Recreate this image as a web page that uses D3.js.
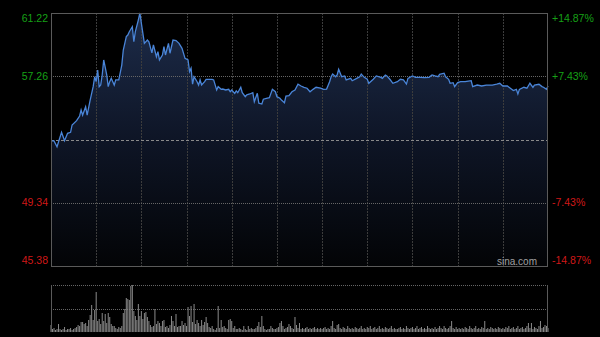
<!DOCTYPE html>
<html>
<head>
<meta charset="utf-8"/>
<title>intraday</title>
<script src="https://cdnjs.cloudflare.com/ajax/libs/d3/7.8.5/d3.min.js"></script>
<style>
  html, body { margin: 0; padding: 0; background: #000; }
  svg { display: block; }
  text { font-family: "Liberation Sans", Arial, sans-serif; }
</style>
</head>
<body>
<div id="chart"></div>
<script>
// minutes since the open (HK session, 330 minutes) and last price
var minutes = [
  0,2,4,7,9,11,13,14,17,19,
  20,21,23,24,26,28,29,30,31,32,
  33,34,35,37,38,39,40,42,43,45,
  47,48,49,50,51,52,54,55,56,58,
  59,60,62,64,65,67,68,70,71,72,
  74,75,76,78,79,81,83,85,87,89,
  91,92,93,94,95,97,98,99,100,102,
  103,107,108,110,111,113,114,116,118,119,
  120,122,123,124,126,127,129,130,132,134,
  135,137,138,140,141,143,145,147,149,150,
  152,153,155,156,158,160,162,164,166,168,
  170,172,174,176,179,181,183,185,186,187,
  189,190,191,193,195,196,199,200,203,205,
  206,208,210,211,214,216,219,220,222,223,
  225,227,230,232,234,236,237,240,242,245,
  248,251,253,255,257,258,261,262,264,265,
  267,268,270,272,275,277,279,280,283,286,
  289,293,296,298,300,303,305,307,309,310,
  311,314,316,318,320,321,324,326,327,329,330
];
var prices = [
  53.22,53.21,52.85,53.75,53.22,53.69,53.75,54.21,54.48,54.77,
  55.15,54.83,55.35,54.83,55.77,56.61,57.23,56.92,57.65,56.61,
  56.71,57.34,58.28,57.34,56.61,56.92,57.13,56.71,57.03,57.03,
  57.96,58.90,59.32,59.74,59.84,60.05,60.36,59.42,60.05,60.78,
  61.22,60.58,59.32,59.53,59.42,58.72,59.22,58.48,58.80,58.28,
  58.59,59.11,58.59,59.32,58.70,59.53,59.49,59.32,59.01,58.38,
  58.28,57.55,57.76,56.77,57.23,56.92,56.71,57.03,56.71,56.92,
  57.07,57.07,57.03,56.40,56.61,56.44,56.46,56.40,56.44,56.29,
  56.40,56.19,56.34,56.23,56.57,56.23,55.98,56.09,56.15,56.23,
  55.67,56.19,55.57,55.52,55.82,55.88,55.92,56.44,56.29,55.98,
  55.88,55.77,55.60,56.02,56.04,56.29,56.40,56.76,56.65,56.57,
  56.51,56.29,56.44,56.57,56.51,56.44,56.46,56.92,57.23,57.40,
  57.23,57.34,57.70,57.23,57.28,57.03,57.13,56.98,57.13,57.23,
  57.40,57.19,57.07,56.82,57.07,57.28,57.19,57.13,57.34,57.28,
  57.07,56.82,56.92,57.07,57.03,56.77,57.13,57.28,57.19,57.19,
  57.17,57.19,57.34,57.28,57.23,57.38,57.45,57.23,57.07,56.82,
  56.86,56.61,56.86,56.92,56.92,56.96,56.98,56.61,56.71,56.65,
  56.71,56.71,56.76,56.82,56.65,56.65,56.51,56.36,56.44,56.15,
  56.44,56.57,56.51,56.82,56.57,56.71,56.76,56.61,56.57,56.44,56.65
];
// per-minute volume (relative units), minute 0..330
var volumes = [
  7,3,4,2,3,8,3,2,3,5, 2,3,3,4,2,3,4,5,7,6,
  10,10,8,9,6,12,17,27,12,22, 40,11,13,8,19,11,18,9,19,15,
  8,6,6,4,3,5,4,6,19,23, 34,33,32,46,47,21,16,12,28,16,
  21,13,19,20,15,11,7,5,6,23, 8,11,9,6,11,12,5,6,4,7,
  16,11,6,18,5,6,6,11,7,9, 6,25,16,26,10,28,8,12,9,6,
  12,7,10,15,9,5,4,6,3,2, 4,26,4,12,5,6,4,3,12,13,
  11,4,6,3,3,4,3,2,6,3, 2,6,3,4,3,3,4,6,10,5,
  16,6,3,2,3,3,6,4,3,3, 4,5,9,11,6,3,4,5,8,6,
  4,3,15,7,4,9,3,4,3,4, 5,3,4,3,4,5,3,4,3,4,
  3,4,5,3,4,3,6,11,4,3, 7,8,4,3,5,4,3,6,4,3,
  4,3,5,4,3,4,6,3,4,3, 5,4,6,3,4,5,3,4,6,3,
  4,3,5,4,3,4,6,3,4,3, 3,4,5,3,4,3,6,4,3,4,
  5,3,4,6,3,4,5,3,4,3, 6,4,3,4,3,5,3,4,6,4,
  3,6,4,3,4,6,11,4,3,5, 3,4,3,4,3,5,4,3,6,4,
  3,4,6,3,4,3,5,4,11,3, 4,3,5,4,3,4,3,5,4,3,
  4,3,5,4,6,3,4,5,3,4, 6,3,4,5,3,4,6,9,4,9,
  3,5,4,3,6,11,4,5,7,6, 4
];
var prevClose = 53.30;
var priceTicks = [61.22, 57.26, 49.34, 45.38];
var pctTicks = ["+14.87%", "+7.43%", "-7.43%", "-14.87%"];
var gridMinutes = [30, 60, 90, 120, 150, 180, 210, 240, 270, 300];

var W = 600, H = 337;
var L = 51, R = 548, T = 13, B = 266;
var vT = 285, vB = 332;

var svg = d3.select("#chart").append("svg").attr("width", W).attr("height", H);
svg.append("rect").attr("width", W).attr("height", H).attr("fill", "#000");

var x = d3.scaleLinear().domain([0, 330]).range([L, R]);
var y = d3.scaleLinear().domain([45.38, 61.22]).range([B, T]);
var yv = d3.scaleLinear().domain([0, d3.max(volumes)]).range([vB, vT]);

var defs = svg.append("defs");
var grad = defs.append("linearGradient").attr("id", "fillGrad")
  .attr("gradientUnits", "userSpaceOnUse")
  .attr("x1", 0).attr("y1", T).attr("x2", 0).attr("y2", B);
grad.append("stop").attr("offset", "0%").attr("stop-color", "#1d2c4a");
grad.append("stop").attr("offset", "50%").attr("stop-color", "#0e1526");
grad.append("stop").attr("offset", "100%").attr("stop-color", "#030406");

var pts = minutes.map(function(m, i) { return [m, prices[i]]; });

// area under the price line
svg.append("path").datum(pts)
  .attr("fill", "url(#fillGrad)")
  .attr("d", d3.area().x(function(d){ return x(d[0]); }).y0(B).y1(function(d){ return y(d[1]); }));

// vertical grid
svg.selectAll(".vg").data(gridMinutes).enter().append("line")
  .attr("x1", function(d){ return Math.round(x(d)) + 0.5; })
  .attr("x2", function(d){ return Math.round(x(d)) + 0.5; })
  .attr("y1", T).attr("y2", B)
  .attr("stroke", "#3c3c3c").attr("stroke-dasharray", "2,1");

// horizontal grid
svg.selectAll(".hg").data([57.26, 49.34]).enter().append("line")
  .attr("x1", L).attr("x2", R)
  .attr("y1", function(d){ return Math.round(y(d)) + 0.5; })
  .attr("y2", function(d){ return Math.round(y(d)) + 0.5; })
  .attr("stroke", "#666").attr("stroke-dasharray", "1,1");

svg.append("line")
  .attr("x1", L).attr("x2", R)
  .attr("y1", Math.round(y(prevClose)) + 0.5).attr("y2", Math.round(y(prevClose)) + 0.5)
  .attr("stroke", "#8a8a8a").attr("stroke-dasharray", "3,2");

// price line
svg.append("path").datum(pts)
  .attr("fill", "none").attr("stroke", "#4a85d8").attr("stroke-width", 1.3)
  .attr("d", d3.line().x(function(d){ return x(d[0]); }).y(function(d){ return y(d[1]); }));

// frame
svg.append("rect").attr("x", L + 0.5).attr("y", T + 0.5)
  .attr("width", R - L - 1).attr("height", B - T)
  .attr("fill", "none").attr("stroke", "#5a5a5a");

// labels
var lab = svg.append("g").attr("font-size", "10.5px");
function labY(v, i) {
  if (i === 0) return y(v) + 5;
  if (i === priceTicks.length - 1) return y(v) - 6;
  return y(v);
}
lab.selectAll(".lp").data(priceTicks).enter().append("text")
  .attr("x", 48).attr("y", function(d, i){ return labY(d, i); })
  .attr("dy", "0.35em").attr("text-anchor", "end")
  .attr("fill", function(d){ return d > prevClose ? "#16a016" : "#d01818"; })
  .text(function(d){ return d.toFixed(2); });
lab.selectAll(".rp").data(priceTicks).enter().append("text")
  .attr("x", 552).attr("y", function(d, i){ return labY(d, i); })
  .attr("dy", "0.35em").attr("text-anchor", "start")
  .attr("fill", function(d){ return d > prevClose ? "#16a016" : "#d01818"; })
  .text(function(d, i){ return pctTicks[i]; });

svg.append("text").attr("x", 537).attr("y", 261).attr("dy", "0.35em")
  .attr("text-anchor", "end").attr("font-size", "10px").attr("fill", "#a0a0a0")
  .text("sina.com");

// volume panel
svg.selectAll(".vl").data([vT, (vT + vB) / 2]).enter().append("line")
  .attr("x1", L).attr("x2", R)
  .attr("y1", function(d){ return Math.round(d) + 0.5; })
  .attr("y2", function(d){ return Math.round(d) + 0.5; })
  .attr("stroke", "#666").attr("stroke-dasharray", "1,1");

svg.selectAll(".vb").data(volumes).enter().append("rect")
  .attr("x", function(d, i){ return x(i) - 0.5; })
  .attr("y", function(d){ return yv(d); })
  .attr("width", 1)
  .attr("height", function(d){ return vB - yv(d); })
  .attr("fill", "#8a8a8a");

svg.append("line").attr("x1", L + 0.5).attr("x2", L + 0.5).attr("y1", vT).attr("y2", vB)
  .attr("stroke", "#5a5a5a");
svg.append("line").attr("x1", R - 0.5).attr("x2", R - 0.5).attr("y1", vT).attr("y2", vB)
  .attr("stroke", "#5a5a5a");
</script>
</body>
</html>
